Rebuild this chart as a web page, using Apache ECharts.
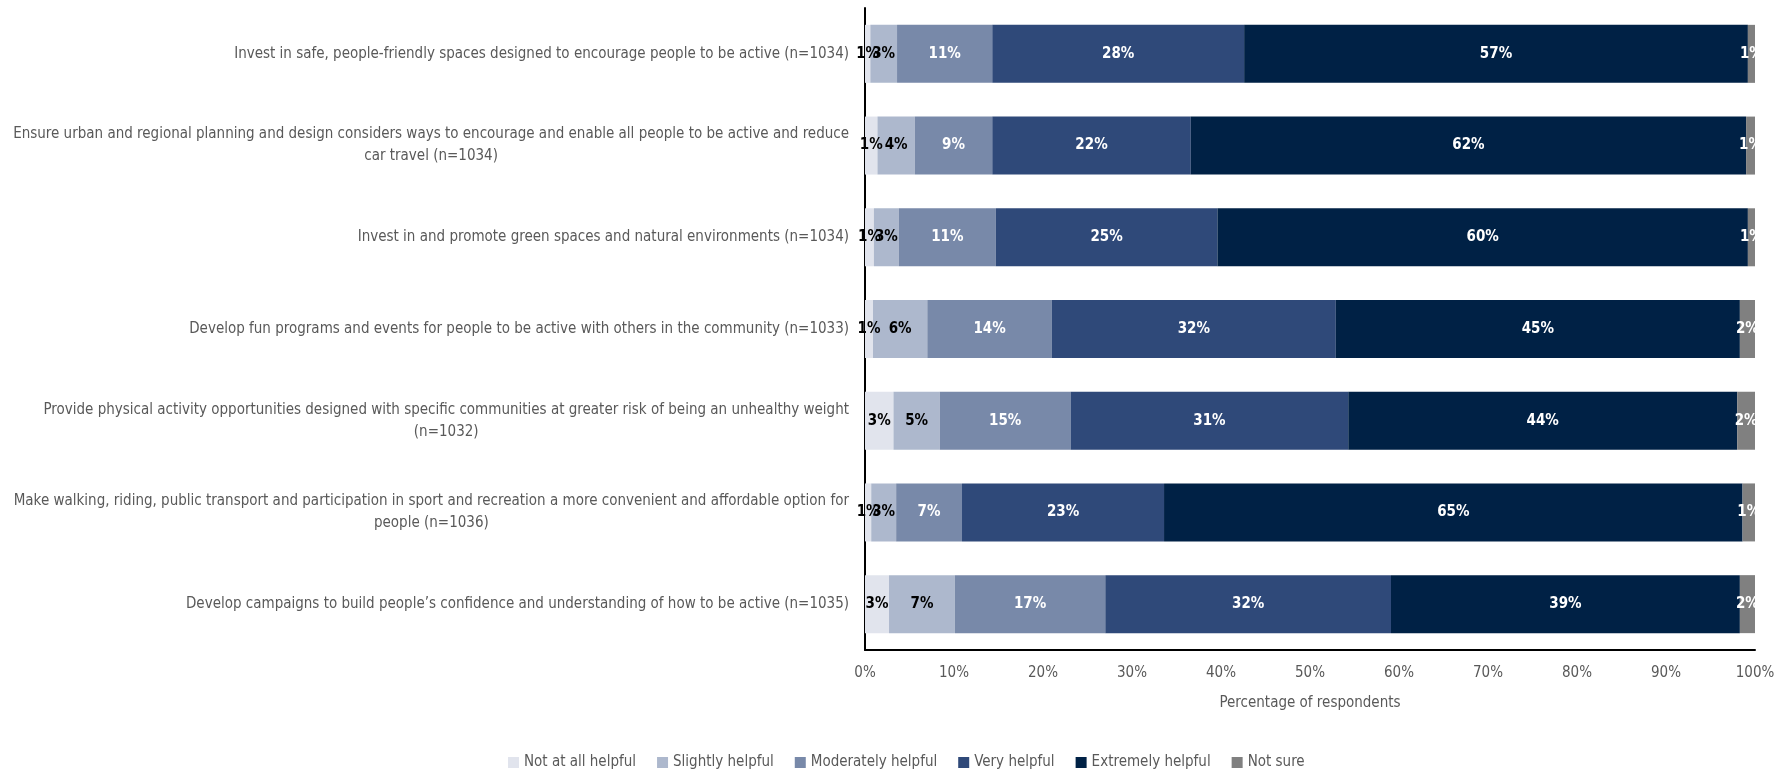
<!DOCTYPE html>
<html>
<head>
<meta charset="utf-8">
<title>Helpfulness of actions to encourage physical activity</title>
<script src="https://cdn.jsdelivr.net/npm/echarts@6/dist/echarts.min.js"></script>
<style>
  html, body { margin: 0; padding: 0; background: #ffffff; }
  #chart { width: 1779px; height: 777px; }
</style>
</head>
<body>
<div id="chart"></div>
<script>
// Survey items (top to bottom); explicit line breaks where the label wraps
const categories = [
  'Invest in safe, people-friendly spaces designed to encourage people to be active (n=1034)',
  'Ensure urban and regional planning and design considers ways to encourage and enable all people to be active and reduce\ncar travel (n=1034)',
  'Invest in and promote green spaces and natural environments (n=1034)',
  'Develop fun programs and events for people to be active with others in the community (n=1033)',
  'Provide physical activity opportunities designed with specific communities at greater risk of being an unhealthy weight\n(n=1032)',
  'Make walking, riding, public transport and participation in sport and recreation a more convenient and affordable option for\npeople (n=1036)',
  'Develop campaigns to build people\u2019s confidence and understanding of how to be active (n=1035)'
];

// Share of respondents (%) per response, same order as categories
const notAtAll   = [0.6, 1.4, 1.0, 0.9, 3.2, 0.7, 2.7];
const slightly   = [3.0, 4.2, 2.8, 6.1, 5.2, 2.8, 7.4];
const moderately = [10.7, 8.7, 10.9, 14.0, 14.7, 7.4, 16.9];
const very       = [28.3, 22.3, 24.9, 31.9, 31.2, 22.7, 32.1];
const extremely  = [56.6, 62.4, 59.6, 45.4, 43.7, 65.0, 39.2];
const notSure    = [0.8, 1.0, 0.8, 1.7, 2.0, 1.4, 1.7];

const xTicks = [0, 10, 20, 30, 40, 50, 60, 70, 80, 90, 100];

const FONT = "'Liberation Sans Narrow', 'Arial Narrow', 'DejaVu Sans Condensed', sans-serif";
const GREY_TEXT = '#595959';

const seriesDefs = [
  { name: 'Not at all helpful', data: notAtAll,   color: '#e1e4ed', labelColor: '#000000' },
  { name: 'Slightly helpful',   data: slightly,   color: '#adb8cd', labelColor: '#000000' },
  { name: 'Moderately helpful', data: moderately, color: '#7889a9', labelColor: '#ffffff' },
  { name: 'Very helpful',       data: very,       color: '#2f4979', labelColor: '#ffffff' },
  { name: 'Extremely helpful',  data: extremely,  color: '#002145', labelColor: '#ffffff' },
  { name: 'Not sure',           data: notSure,    color: '#808080', labelColor: '#ffffff' }
];

const chart = echarts.init(document.getElementById('chart'), null, { renderer: 'canvas' });

const option = {
  animation: false,
  backgroundColor: '#ffffff',
  textStyle: { fontFamily: FONT },
  grid: { left: 865, right: 24, top: 8, bottom: 127, containLabel: false, outerBoundsMode: 'none' },
  legend: {
    bottom: 2,
    left: 503,
    icon: 'rect',
    itemWidth: 11,
    itemHeight: 11,
    itemGap: 21,
    textStyle: { color: GREY_TEXT, fontSize: 15, fontFamily: FONT },
    data: seriesDefs.map(s => s.name)
  },
  xAxis: {
    type: 'value',
    min: 0,
    max: 100,
    interval: 10,
    name: 'Percentage of respondents',
    nameLocation: 'middle',
    nameGap: 46,
    nameTextStyle: { color: GREY_TEXT, fontSize: 15, fontFamily: FONT },
    axisLine: { show: true, lineStyle: { color: '#000000', width: 2 } },
    axisTick: { show: false },
    splitLine: { show: false },
    axisLabel: {
      color: GREY_TEXT,
      fontSize: 15,
      fontFamily: FONT,
      margin: 16,
      formatter: v => (xTicks.indexOf(v) >= 0 ? v + '%' : '')
    }
  },
  yAxis: {
    type: 'category',
    inverse: true,
    data: categories,
    axisLine: { show: true, lineStyle: { color: '#000000', width: 2 } },
    axisTick: { show: false },
    splitLine: { show: false },
    axisLabel: {
      margin: 16,
      align: 'right',
      color: GREY_TEXT,
      fontSize: 15,
      fontFamily: FONT,
      lineHeight: 22,
      formatter: v => v.split('\n').map(line => '{c|' + line + '}').join('\n'),
      rich: {
        c: { align: 'center', color: GREY_TEXT, fontSize: 15, fontFamily: FONT, lineHeight: 22 }
      }
    }
  },
  series: seriesDefs.map(s => ({
    name: s.name,
    type: 'bar',
    stack: 'total',
    barWidth: 58,
    data: s.data,
    itemStyle: { color: s.color },
    label: {
      show: true,
      position: 'inside',
      color: s.labelColor,
      fontSize: 15,
      fontWeight: 'bold',
      fontFamily: FONT,
      formatter: p => Math.round(p.value) + '%'
    }
  }))
};

chart.setOption(option);

// Trim value labels that spill past the right end of the plot area
const rightEdge = chart.convertToPixel({ xAxisIndex: 0 }, 100);
chart.setOption({
  graphic: [{
    type: 'rect',
    z: 100,
    silent: true,
    shape: { x: Math.ceil(rightEdge) + 1, y: 0, width: 1779 - Math.ceil(rightEdge), height: 640 },
    style: { fill: '#ffffff' }
  }]
});
</script>
</body>
</html>
